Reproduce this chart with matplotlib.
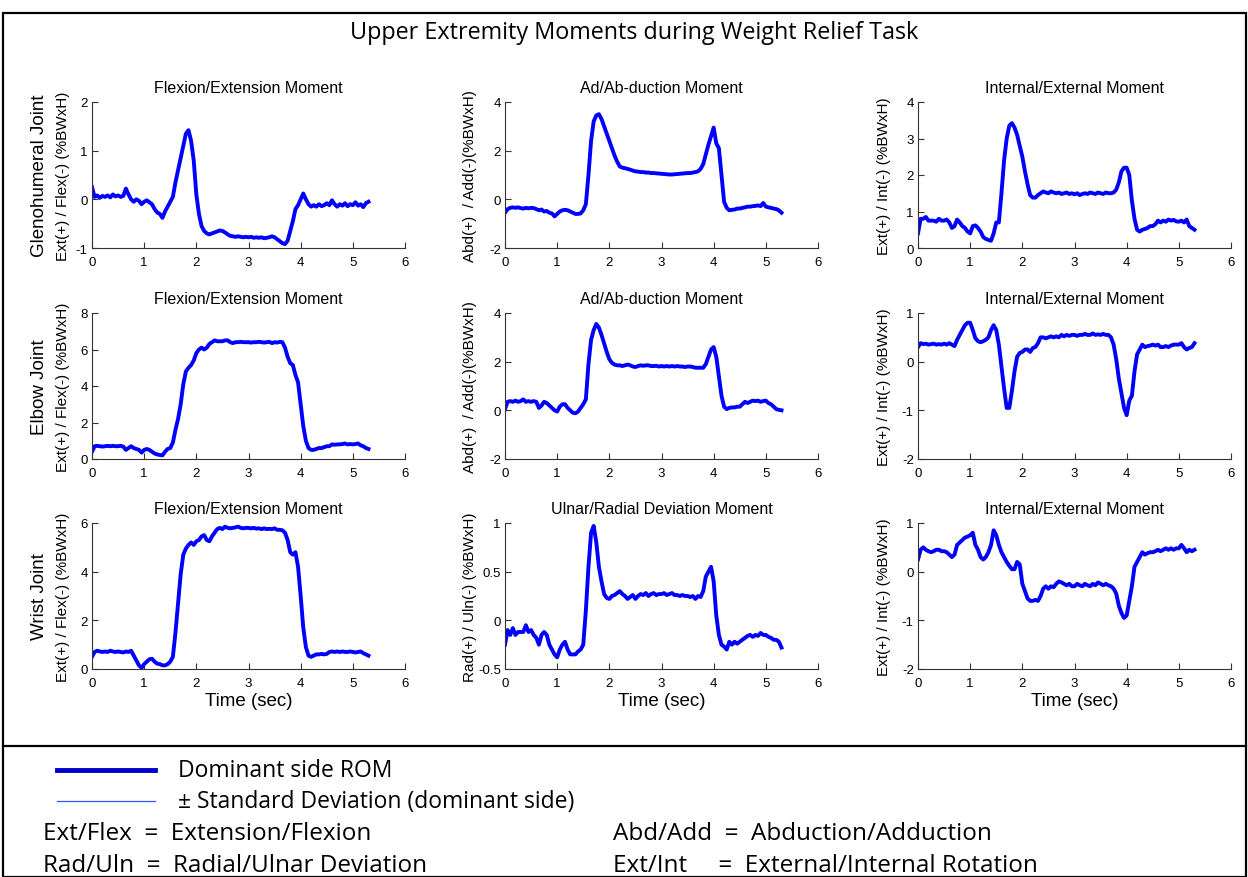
import numpy as np
import matplotlib
matplotlib.use('Agg')
import matplotlib.pyplot as plt
from matplotlib.lines import Line2D
from matplotlib.patches import Rectangle
from matplotlib.ticker import FormatStrFormatter

# time axis, 0.05 s samples from 0 to 5.3 s
t = np.round(np.arange(107) * 0.05, 2)

# glenohumeral joint
gh_fe = [0.25, 0.05, 0.08, 0.03, 0.07, 0.05, 0.08, 0.04, 0.1, 0.06,
         0.08, 0.05, 0.07, 0.22, 0.1, 0.0, -0.05, 0.0, -0.03, -0.1,
         -0.05, -0.02, -0.06, -0.1, -0.2, -0.27, -0.3, -0.38, -0.25, -0.15,
         -0.05, 0.05, 0.35, 0.6, 0.85, 1.1, 1.35, 1.42, 1.2, 0.8,
         0.1, -0.3, -0.55, -0.65, -0.7, -0.72, -0.7, -0.68, -0.66, -0.64,
         -0.65, -0.68, -0.72, -0.75, -0.76, -0.77, -0.76, -0.77, -0.78, -0.77,
         -0.78, -0.77, -0.79, -0.78, -0.79, -0.78, -0.8, -0.79, -0.78, -0.76,
         -0.78, -0.82, -0.86, -0.9, -0.92, -0.85, -0.65, -0.45, -0.2, -0.12,
         0.0, 0.12, 0.0, -0.1, -0.15, -0.12, -0.15, -0.1, -0.14, -0.12,
         -0.08, -0.12, -0.02, -0.1, -0.15, -0.1, -0.13, -0.08, -0.14, -0.1,
         -0.12, -0.06, -0.13, -0.1, -0.16, -0.08, -0.05]
gh_aa = [-0.55, -0.4, -0.35, -0.33, -0.35, -0.33, -0.36, -0.38, -0.35, -0.37,
         -0.35, -0.36, -0.4, -0.45, -0.42, -0.5, -0.48, -0.55, -0.58, -0.7,
         -0.6, -0.5, -0.45, -0.43, -0.45, -0.5, -0.55, -0.6, -0.6, -0.58,
         -0.45, -0.2, 1.0, 2.4, 3.2, 3.45, 3.5, 3.3, 3.0, 2.7,
         2.4, 2.1, 1.8, 1.55, 1.35, 1.3, 1.28, 1.25, 1.22, 1.18,
         1.15, 1.14, 1.12, 1.12, 1.1, 1.1, 1.08, 1.08, 1.07, 1.06,
         1.05, 1.04, 1.03, 1.02, 1.02, 1.03, 1.04, 1.05, 1.06, 1.07,
         1.08, 1.08, 1.1, 1.12, 1.15, 1.25, 1.45, 1.85, 2.25, 2.6,
         2.95, 2.3, 2.1, 1.0, -0.1, -0.35, -0.45, -0.43, -0.42, -0.38,
         -0.38, -0.35, -0.33, -0.3, -0.3, -0.28, -0.27, -0.25, -0.28, -0.15,
         -0.3, -0.33, -0.35, -0.38, -0.4, -0.45, -0.55]
gh_ie = [0.4, 0.8, 0.8, 0.85, 0.75, 0.75, 0.75, 0.72, 0.8, 0.75,
         0.75, 0.78, 0.7, 0.55, 0.6, 0.78, 0.7, 0.6, 0.55, 0.45,
         0.4, 0.6, 0.62, 0.55, 0.45, 0.3, 0.25, 0.22, 0.2, 0.4,
         0.7, 0.7, 1.5, 2.4, 3.0, 3.35, 3.42, 3.3, 3.1, 2.8,
         2.5, 2.1, 1.75, 1.45, 1.38, 1.38, 1.45, 1.5, 1.55, 1.52,
         1.5, 1.55, 1.52, 1.5, 1.52, 1.48, 1.5, 1.52, 1.48, 1.5,
         1.47, 1.5, 1.45, 1.48, 1.5, 1.48, 1.52, 1.5, 1.48, 1.52,
         1.5, 1.48, 1.52, 1.5, 1.5, 1.52, 1.6, 1.8, 2.1, 2.2,
         2.2, 2.0, 1.3, 0.8, 0.5, 0.45, 0.5, 0.52, 0.55, 0.6,
         0.6, 0.65, 0.75, 0.7, 0.75, 0.72, 0.78, 0.75, 0.77, 0.73,
         0.72, 0.75, 0.7, 0.78, 0.6, 0.55, 0.5]

# elbow joint
el_fe = [0.4, 0.7, 0.72, 0.7, 0.68, 0.7, 0.72, 0.7, 0.72, 0.7,
         0.7, 0.72, 0.68, 0.5, 0.6, 0.7, 0.6, 0.55, 0.5, 0.35,
         0.5, 0.55, 0.5, 0.4, 0.3, 0.25, 0.22, 0.2, 0.4, 0.55,
         0.6, 0.9, 1.6, 2.2, 3.0, 4.1, 4.8, 5.0, 5.15, 5.4,
         5.8, 6.0, 6.1, 6.0, 6.1, 6.3, 6.4, 6.5, 6.45, 6.45,
         6.45, 6.5, 6.5, 6.4, 6.35, 6.4, 6.4, 6.42, 6.4, 6.4,
         6.4, 6.38, 6.4, 6.4, 6.42, 6.4, 6.38, 6.4, 6.42, 6.35,
         6.4, 6.38, 6.42, 6.4, 6.1, 5.6, 5.25, 5.15, 4.6, 4.2,
         3.0, 1.8, 1.0, 0.6, 0.5, 0.5, 0.55, 0.6, 0.6, 0.65,
         0.7, 0.7, 0.8, 0.78, 0.8, 0.8, 0.82, 0.85, 0.8, 0.82,
         0.8, 0.82, 0.85, 0.75, 0.7, 0.6, 0.55]
el_aa = [0.05, 0.35, 0.38, 0.35, 0.4, 0.35, 0.38, 0.45, 0.35, 0.38,
         0.35, 0.38, 0.35, 0.1, 0.2, 0.35, 0.3, 0.2, 0.1, 0.0,
         -0.05, 0.15, 0.25, 0.25, 0.1, 0.0, -0.1, -0.12, -0.05, 0.1,
         0.25, 0.45, 1.9, 2.9, 3.3, 3.55, 3.4, 3.1, 2.75, 2.4,
         2.1, 1.95, 1.88, 1.85, 1.85, 1.82, 1.85, 1.88, 1.85, 1.8,
         1.78, 1.82, 1.85, 1.83, 1.85, 1.85, 1.82, 1.82, 1.83, 1.8,
         1.82, 1.8, 1.82, 1.8, 1.82, 1.8, 1.82, 1.8, 1.8, 1.78,
         1.8, 1.8, 1.78, 1.75, 1.75, 1.75, 1.75, 1.9, 2.2, 2.5,
         2.6, 2.2, 1.4, 0.6, 0.15, 0.05, 0.1, 0.12, 0.12, 0.15,
         0.15, 0.25, 0.35, 0.3, 0.35, 0.4, 0.38, 0.4, 0.35, 0.38,
         0.4, 0.3, 0.25, 0.15, 0.05, 0.02, 0.0]
el_ie = [0.3, 0.38, 0.36, 0.37, 0.35, 0.36, 0.37, 0.35, 0.36, 0.35,
         0.37, 0.35, 0.38, 0.35, 0.32, 0.45, 0.55, 0.65, 0.75, 0.8,
         0.8, 0.65, 0.48, 0.42, 0.4, 0.42, 0.45, 0.5, 0.65, 0.75,
         0.65, 0.35, -0.1, -0.55, -0.95, -0.95, -0.6, -0.2, 0.1, 0.18,
         0.2, 0.25, 0.25, 0.2, 0.28, 0.3, 0.38, 0.5, 0.5, 0.48,
         0.5, 0.52, 0.5, 0.52, 0.5, 0.55, 0.52, 0.55, 0.53, 0.55,
         0.55, 0.53, 0.55, 0.55, 0.57, 0.55, 0.55, 0.58, 0.55, 0.56,
         0.55, 0.57, 0.55, 0.55, 0.5, 0.35, 0.05, -0.35, -0.65, -0.95,
         -1.1, -0.8, -0.7, -0.2, 0.15, 0.25, 0.35, 0.3, 0.32, 0.33,
         0.35, 0.33, 0.35, 0.3, 0.3, 0.32, 0.3, 0.33, 0.35, 0.35,
         0.35, 0.38, 0.3, 0.25, 0.28, 0.3, 0.38]

# wrist joint
wr_fe = [0.5, 0.7, 0.75, 0.72, 0.7, 0.72, 0.7, 0.75, 0.72, 0.7,
         0.72, 0.7, 0.68, 0.72, 0.7, 0.75, 0.55, 0.35, 0.15, 0.05,
         0.2, 0.3, 0.4, 0.42, 0.3, 0.22, 0.2, 0.15, 0.15, 0.2,
         0.3, 0.5, 1.5, 2.7, 3.9, 4.7, 4.95, 5.1, 5.2, 5.1,
         5.25, 5.3, 5.45, 5.5, 5.3, 5.25, 5.45, 5.6, 5.75, 5.8,
         5.75, 5.85, 5.8, 5.78, 5.8, 5.82, 5.85, 5.8, 5.78, 5.8,
         5.8, 5.78, 5.8, 5.77, 5.78, 5.75, 5.78, 5.75, 5.76, 5.75,
         5.78, 5.72, 5.72, 5.7, 5.6, 5.3, 4.8, 4.7, 4.8, 4.2,
         3.0, 1.7, 0.9, 0.55, 0.5, 0.55, 0.6, 0.6, 0.62, 0.6,
         0.62, 0.7, 0.72, 0.7, 0.72, 0.7, 0.72, 0.7, 0.7, 0.72,
         0.7, 0.68, 0.7, 0.72, 0.65, 0.6, 0.55]
wr_ru = [-0.25, -0.1, -0.15, -0.08, -0.15, -0.12, -0.12, -0.12, -0.05, -0.12,
         -0.1, -0.15, -0.18, -0.25, -0.15, -0.12, -0.15, -0.25, -0.3, -0.35,
         -0.38, -0.3, -0.25, -0.22, -0.3, -0.35, -0.35, -0.35, -0.32, -0.3,
         -0.25, 0.1, 0.55, 0.9, 0.97, 0.8, 0.55, 0.4, 0.27, 0.23,
         0.22, 0.25, 0.26, 0.28, 0.3, 0.27, 0.25, 0.22, 0.24, 0.26,
         0.22, 0.25, 0.27, 0.26, 0.28, 0.25, 0.27, 0.28, 0.26, 0.27,
         0.27, 0.28, 0.26, 0.27, 0.28, 0.26, 0.26, 0.25, 0.26, 0.25,
         0.25, 0.24, 0.25, 0.22, 0.25, 0.24, 0.3, 0.45, 0.5, 0.55,
         0.4, 0.05, -0.15, -0.25, -0.27, -0.3, -0.22, -0.25, -0.22, -0.24,
         -0.22, -0.2, -0.18, -0.16, -0.15, -0.17, -0.15, -0.16, -0.13, -0.15,
         -0.15, -0.17, -0.18, -0.2, -0.2, -0.22, -0.28]
wr_ie = [0.25, 0.45, 0.5, 0.45, 0.42, 0.4, 0.42, 0.45, 0.45, 0.42,
         0.42, 0.4, 0.35, 0.3, 0.35, 0.55, 0.6, 0.65, 0.7, 0.72,
         0.75, 0.8, 0.55, 0.45, 0.3, 0.25, 0.3, 0.4, 0.55, 0.85,
         0.75, 0.55, 0.4, 0.3, 0.2, 0.12, 0.05, 0.05, 0.2, 0.15,
         -0.25, -0.4, -0.55, -0.6, -0.6, -0.58, -0.6, -0.5, -0.35, -0.3,
         -0.35, -0.3, -0.32, -0.25, -0.2, -0.22, -0.25, -0.28, -0.25, -0.3,
         -0.3, -0.25, -0.28, -0.3, -0.25, -0.28, -0.3, -0.25, -0.28, -0.22,
         -0.25, -0.28, -0.25, -0.28, -0.3, -0.35, -0.45, -0.7, -0.85, -0.95,
         -0.9, -0.6, -0.3, 0.1, 0.2, 0.3, 0.4, 0.35, 0.38, 0.4,
         0.4, 0.42, 0.45, 0.42, 0.45, 0.48, 0.45, 0.48, 0.45, 0.48,
         0.48, 0.55, 0.48, 0.4, 0.45, 0.42, 0.45]

series = [[gh_fe, gh_aa, gh_ie], [el_fe, el_aa, el_ie], [wr_fe, wr_ru, wr_ie]]
titles = [["Flexion/Extension Moment", "Ad/Ab-duction Moment", "Internal/External Moment"],
          ["Flexion/Extension Moment", "Ad/Ab-duction Moment", "Internal/External Moment"],
          ["Flexion/Extension Moment", "Ulnar/Radial Deviation Moment", "Internal/External Moment"]]
ylabels = [["Ext(+) / Flex(-) (%BWxH)", "Abd(+)  / Add(-)(%BWxH)", "Ext(+) / Int(-) (%BWxH)"],
           ["Ext(+) / Flex(-) (%BWxH)", "Abd(+)  / Add(-)(%BWxH)", "Ext(+) / Int(-) (%BWxH)"],
           ["Ext(+) / Flex(-) (%BWxH)", "Rad(+) / Uln(-) (%BWxH)", "Ext(+) / Int(-) (%BWxH)"]]
yticks = [[[-1, 0, 1, 2], [-2, 0, 2, 4], [0, 1, 2, 3, 4]],
          [[0, 2, 4, 6, 8], [-2, 0, 2, 4], [-2, -1, 0, 1]],
          [[0, 2, 4, 6], [-0.5, 0, 0.5, 1], [-2, -1, 0, 1]]]
row_names = ["Glenohumeral Joint", "Elbow Joint", "Wrist Joint"]
xticks = [0, 1, 2, 3, 4, 5, 6]

W, H = 1248, 878
fig = plt.figure(figsize=(W / 100, H / 100), dpi=100)
AX = "Liberation Sans"
DOC = "Open Sans"

col_left = [92, 505, 918]
row_top = [103, 314, 524]
aw, ah = 313, 146
ylab_x = [63, 470, 884]

for r in range(3):
    for c in range(3):
        ax = fig.add_axes([col_left[c] / W, 1 - (row_top[r] + ah) / H, aw / W, ah / H])
        ax.plot(t, series[r][c], color='#0000ff', lw=2.8, solid_joinstyle='round')
        yt = yticks[r][c]
        ax.set_xlim(0, 6)
        ax.set_ylim(yt[0], yt[-1])
        ax.set_xticks(xticks)
        ax.set_yticks(yt)
        ax.yaxis.set_major_formatter(FormatStrFormatter('%g'))
        for s in ['top', 'right']:
            ax.spines[s].set_visible(False)
        for s in ['left', 'bottom']:
            ax.spines[s].set_color('#333333')
            ax.spines[s].set_linewidth(0.8)
        ax.tick_params(direction='in', length=4, width=0.8, color='#333333',
                       labelsize=9.5)
        ax.tick_params(axis='x', pad=6)
        ax.tick_params(axis='y', pad=3)
        for lab in ax.get_xticklabels() + ax.get_yticklabels():
            lab.set_family(AX)
        ax.set_title(titles[r][c], fontsize=11.5, family=AX, pad=7)
        yc = 1 - (row_top[r] + ah / 2) / H
        fig.text(ylab_x[c] / W, yc, ylabels[r][c], rotation=90, ha='center', va='center',
                 fontsize=11, family=AX)
        if r == 2:
            ax.set_xlabel("Time (sec)", fontsize=13.5, family=AX, labelpad=2)
    fig.text(40 / W, 1 - (row_top[r] + ah / 2) / H, row_names[r], rotation=90,
             ha='center', va='center', fontsize=13.5, family=AX)

# frame and title
fig.add_artist(Rectangle((3 / W, 0), (W - 5) / W, 1 - 14 / H, transform=fig.transFigure,
                         fill=False, edgecolor='black', lw=1.6))
fig.add_artist(Line2D([3 / W, 1 - 2 / W], [1 - 747 / H, 1 - 747 / H], transform=fig.transFigure,
                      color='black', lw=1.6))
fig.text(634 / W, 1 - 33 / H, "Upper Extremity Moments during Weight Relief Task",
         ha='center', va='center', fontsize=16.8, family=DOC)

# legend
fig.add_artist(Line2D([57 / W, 155 / W], [1 - 771 / H] * 2, transform=fig.transFigure,
                      color='#0000cc', lw=3.5))
fig.add_artist(Line2D([57 / W, 155 / W], [1 - 802 / H] * 2, transform=fig.transFigure,
                      color='#3355ff', lw=0.9))
fs = 16.5
fs2 = 17.5
fig.text(178 / W, 1 - 771 / H, "Dominant side ROM", va='center', fontsize=fs, family=DOC)
fig.text(178 / W, 1 - 802 / H, "± Standard Deviation (dominant side)", va='center',
         fontsize=fs, family=DOC)
fig.text(43 / W, 1 - 834 / H, "Ext/Flex  =  Extension/Flexion", va='center', fontsize=fs2, family=DOC)
fig.text(43 / W, 1 - 866 / H, "Rad/Uln  =  Radial/Ulnar Deviation", va='center', fontsize=fs2, family=DOC)
fig.text(613 / W, 1 - 834 / H, "Abd/Add  =  Abduction/Adduction", va='center', fontsize=fs2, family=DOC)
fig.text(613 / W, 1 - 866 / H, "Ext/Int     =  External/Internal Rotation", va='center',
         fontsize=fs2, family=DOC)

fig.savefig("out.png", dpi=100)
